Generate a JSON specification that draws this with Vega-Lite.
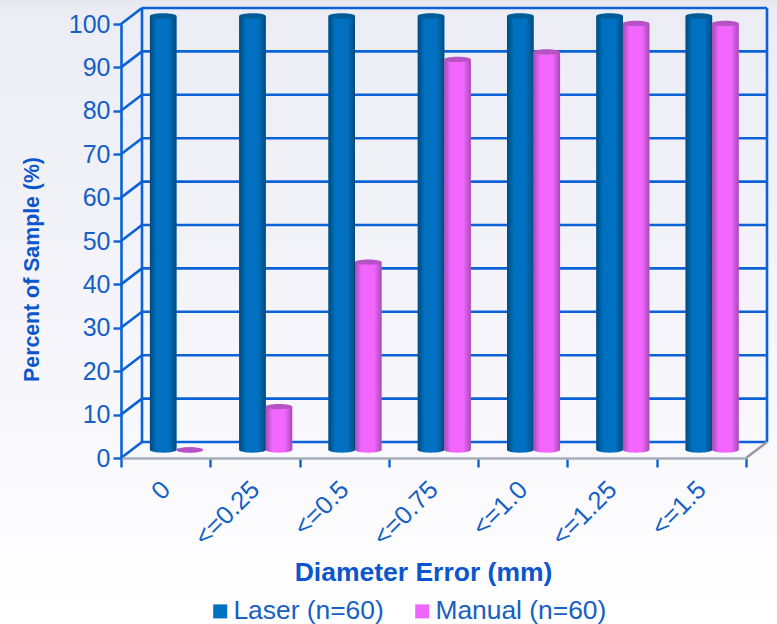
{
  "$schema": "https://vega.github.io/schema/vega-lite/v6.json",
  "width": 625,
  "height": 434,
  "autosize": "none",
  "padding": {"left": 121, "top": 24, "right": 31, "bottom": 166},
  "background": "#ffffff",
  "config": {"view": {"stroke": null}, "font": "Liberation Sans"},
  "datasets": {
    "levels": [
      {"level": 0, "from": 0, "to": 7}, {"level": 10, "from": 0, "to": 7},
      {"level": 20, "from": 0, "to": 7}, {"level": 30, "from": 0, "to": 7},
      {"level": 40, "from": 0, "to": 7}, {"level": 50, "from": 0, "to": 7},
      {"level": 60, "from": 0, "to": 7}, {"level": 70, "from": 0, "to": 7},
      {"level": 80, "from": 0, "to": 7}, {"level": 90, "from": 0, "to": 7},
      {"level": 100, "from": 0, "to": 7}
    ],
    "samples": [
      {"error": "0", "method": "Laser (n=60)", "percent": 100},
      {"error": "<=0.25", "method": "Laser (n=60)", "percent": 100},
      {"error": "<=0.5", "method": "Laser (n=60)", "percent": 100},
      {"error": "<=0.75", "method": "Laser (n=60)", "percent": 100},
      {"error": "<=1.0", "method": "Laser (n=60)", "percent": 100},
      {"error": "<=1.25", "method": "Laser (n=60)", "percent": 100},
      {"error": "<=1.5", "method": "Laser (n=60)", "percent": 100},
      {"error": "0", "method": "Manual (n=60)", "percent": 0},
      {"error": "<=0.25", "method": "Manual (n=60)", "percent": 10},
      {"error": "<=0.5", "method": "Manual (n=60)", "percent": 43.3},
      {"error": "<=0.75", "method": "Manual (n=60)", "percent": 90},
      {"error": "<=1.0", "method": "Manual (n=60)", "percent": 91.7},
      {"error": "<=1.25", "method": "Manual (n=60)", "percent": 98.3},
      {"error": "<=1.5", "method": "Manual (n=60)", "percent": 98.3}
    ]
  },
  "resolve": {"scale": {"x": "independent"}, "axis": {"x": "independent"}},
  "layer": [
    {
      "description": "Page wash, back wall, side wall and the value axis",
      "data": {"name": "levels"},
      "encoding": {
        "x": {"field": "from", "type": "quantitative", "axis": null,
              "scale": {"domain": [0, 7], "nice": false, "zero": false}},
        "x2": {"field": "to"},
        "y": {"field": "level", "type": "quantitative",
              "scale": {"domain": [0, 100], "nice": false},
              "axis": {
                "values": [0, 10, 20, 30, 40, 50, 60, 70, 80, 90, 100],
                "grid": false, "zindex": 1,
                "domainColor": "#0b62d6", "domainWidth": 2.6,
                "tickColor": "#0b62d6", "tickWidth": 2.4, "tickSize": 8,
                "labelColor": "#1560c4", "labelFont": "Liberation Sans", "labelFontSize": 25, "labelPadding": 3,
                "title": "Percent of Sample (%)",
                "titleColor": "#0b56cc", "titleFont": "Liberation Sans", "titleFontSize": 21.3, "titleFontWeight": "bold",
                "titleX": -79, "titleY": 245, "titleAngle": -90
              }}
      },
      "layer": [
        {
          "data": {"values": [{"left": -1.355, "right": 7.35, "top": 105.6, "bottom": -38.3}]},
          "mark": {"type": "rect", "fill": {
            "gradient": "linear", "x1": 0, "y1": 0, "x2": 0, "y2": 1,
            "stops": [
              {"offset": 0, "color": "#e6e6ec"},
              {"offset": 0.02, "color": "#ececf4"},
              {"offset": 0.5, "color": "#f4f4fa"},
              {"offset": 0.85, "color": "#fcfcfe"},
              {"offset": 1, "color": "#ffffff"}
            ]}},
          "encoding": {
            "x": {"field": "left", "type": "quantitative"},
            "x2": {"field": "right"},
            "y": {"field": "top", "type": "quantitative"},
            "y2": {"field": "bottom"}
          }
        },
        {
          "mark": {"type": "rule", "color": "#0b62d6", "strokeWidth": 2.6, "xOffset": 21, "x2Offset": 21, "yOffset": -16}
        },
        {
          "mark": {"type": "rule", "color": "#0b62d6", "strokeWidth": 2.6, "x2Offset": 21, "y2Offset": -16},
          "encoding": {
            "x2": {"field": "from"},
            "y2": {"field": "level"}
          }
        },
        {
          "data": {"values": [{"from": 0, "low": 0, "high": 100}, {"from": 7, "low": 0, "high": 100}]},
          "mark": {"type": "rule", "color": "#0b62d6", "strokeWidth": 2.6, "xOffset": 21, "yOffset": -16, "y2Offset": -16},
          "encoding": {
            "x2": null,
            "y": {"field": "low", "type": "quantitative"},
            "y2": {"field": "high"}
          }
        },
        {
          "data": {"values": [{"from": 7, "to": 7, "level": 0}]},
          "mark": {"type": "rule", "color": "#9a9aa0", "strokeWidth": 2.6, "x2Offset": 21, "y2Offset": -16},
          "encoding": {
            "x2": {"field": "to"},
            "y2": {"field": "level"}
          }
        }
      ]
    },
    {
      "description": "Cylinders for each measuring method",
      "data": {"name": "samples"},
      "encoding": {
        "x": {"field": "error", "type": "nominal",
              "scale": {"type": "band", "paddingInner": 0, "paddingOuter": 0,
                        "domain": ["0", "<=0.25", "<=0.5", "<=0.75", "<=1.0", "<=1.25", "<=1.5"]},
              "axis": {
                "orient": "bottom", "zindex": 1, "tickBand": "extent",
                "domainColor": "#a6adbb", "domainWidth": 2.6,
                "tickColor": "#0b62d6", "tickWidth": 2.4, "tickSize": 9,
                "labelAngle": -45, "labelAlign": "right", "labelBaseline": "middle",
                "labelColor": "#1560c4", "labelFont": "Liberation Sans", "labelFontSize": 25.5, "labelPadding": 18,
                "title": "Diameter Error (mm)",
                "titleColor": "#0b56cc", "titleFont": "Liberation Sans", "titleFontSize": 26.5, "titleFontWeight": "bold",
                "titleX": 302, "titleY": 114, "titleBaseline": "middle"
              }},
        "xOffset": {"field": "method", "type": "nominal",
                    "scale": {"domain": ["Laser (n=60)", "Manual (n=60)"], "paddingInner": 0, "paddingOuter": 0.685, "align": 0.797}},
        "y": {"field": "percent", "type": "quantitative"}
      },
      "layer": [
        {
          "mark": {"type": "bar", "yOffset": -8, "y2Offset": -8},
          "encoding": {
            "color": {"field": "method", "type": "nominal",
              "scale": {"domain": ["Laser (n=60)", "Manual (n=60)"], "range": ["#0070c0", "#ec66ff"]},
              "legend": {
                "orient": "none", "legendX": 86, "legendY": 574, "direction": "horizontal", "title": null,
                "symbolType": "square", "symbolSize": 196, "symbolStrokeWidth": 0,
                "labelColor": "#1560c4", "labelFont": "Liberation Sans", "labelFontSize": 26.4, "labelOffset": 0, "labelLimit": 300,
                "columnPadding": 25
              }}
          }
        },
        {
          "transform": [{"filter": "datum.method === 'Laser (n=60)'"}],
          "layer": [
            {
              "mark": {"type": "point", "filled": true, "opacity": 1, "yOffset": -8, "size": 702,
                "shape": "M-1,0A1,0.2,0,1,1,1,0A1,0.2,0,1,1,-1,0Z",
                "fill": {"gradient": "linear", "x1": 0, "y1": 0, "x2": 1, "y2": 0,
                  "stops": [{"offset": 0, "color": "#004a7c"}, {"offset": 0.25, "color": "#0070c0"}, {"offset": 0.72, "color": "#0070c0"}, {"offset": 1, "color": "#004a7c"}]}},
              "encoding": {"y": {"datum": 0, "type": "quantitative"}}
            },
            {
              "mark": {"type": "bar", "yOffset": -8, "y2Offset": -8,
                "fill": {"gradient": "linear", "x1": 0, "y1": 0, "x2": 1, "y2": 0,
                  "stops": [{"offset": 0, "color": "#004a7c"}, {"offset": 0.25, "color": "#0070c0"}, {"offset": 0.72, "color": "#0070c0"}, {"offset": 1, "color": "#004a7c"}]}}
            },
            {
              "mark": {"type": "point", "filled": true, "opacity": 1, "yOffset": -8, "size": 702, "color": "#005c96",
                "shape": "M-1,0A1,0.2,0,1,1,1,0A1,0.2,0,1,1,-1,0Z"}
            }
          ]
        },
        {
          "transform": [{"filter": "datum.method === 'Manual (n=60)'"}],
          "layer": [
            {
              "mark": {"type": "point", "filled": true, "opacity": 1, "yOffset": -8, "size": 702,
                "shape": "M-1,0A1,0.2,0,1,1,1,0A1,0.2,0,1,1,-1,0Z",
                "fill": {"gradient": "linear", "x1": 0, "y1": 0, "x2": 1, "y2": 0,
                  "stops": [{"offset": 0, "color": "#a44cb4"}, {"offset": 0.25, "color": "#f266ff"}, {"offset": 0.72, "color": "#f266ff"}, {"offset": 1, "color": "#a44cb4"}]}},
              "encoding": {"y": {"datum": 0, "type": "quantitative"}}
            },
            {
              "mark": {"type": "bar", "yOffset": -8, "y2Offset": -8,
                "fill": {"gradient": "linear", "x1": 0, "y1": 0, "x2": 1, "y2": 0,
                  "stops": [{"offset": 0, "color": "#a44cb4"}, {"offset": 0.25, "color": "#f266ff"}, {"offset": 0.72, "color": "#f266ff"}, {"offset": 1, "color": "#a44cb4"}]}}
            },
            {
              "mark": {"type": "point", "filled": true, "opacity": 1, "yOffset": -8, "size": 702, "color": "#b552c4",
                "shape": "M-1,0A1,0.2,0,1,1,1,0A1,0.2,0,1,1,-1,0Z"}
            }
          ]
        }
      ]
    }
  ]
}
